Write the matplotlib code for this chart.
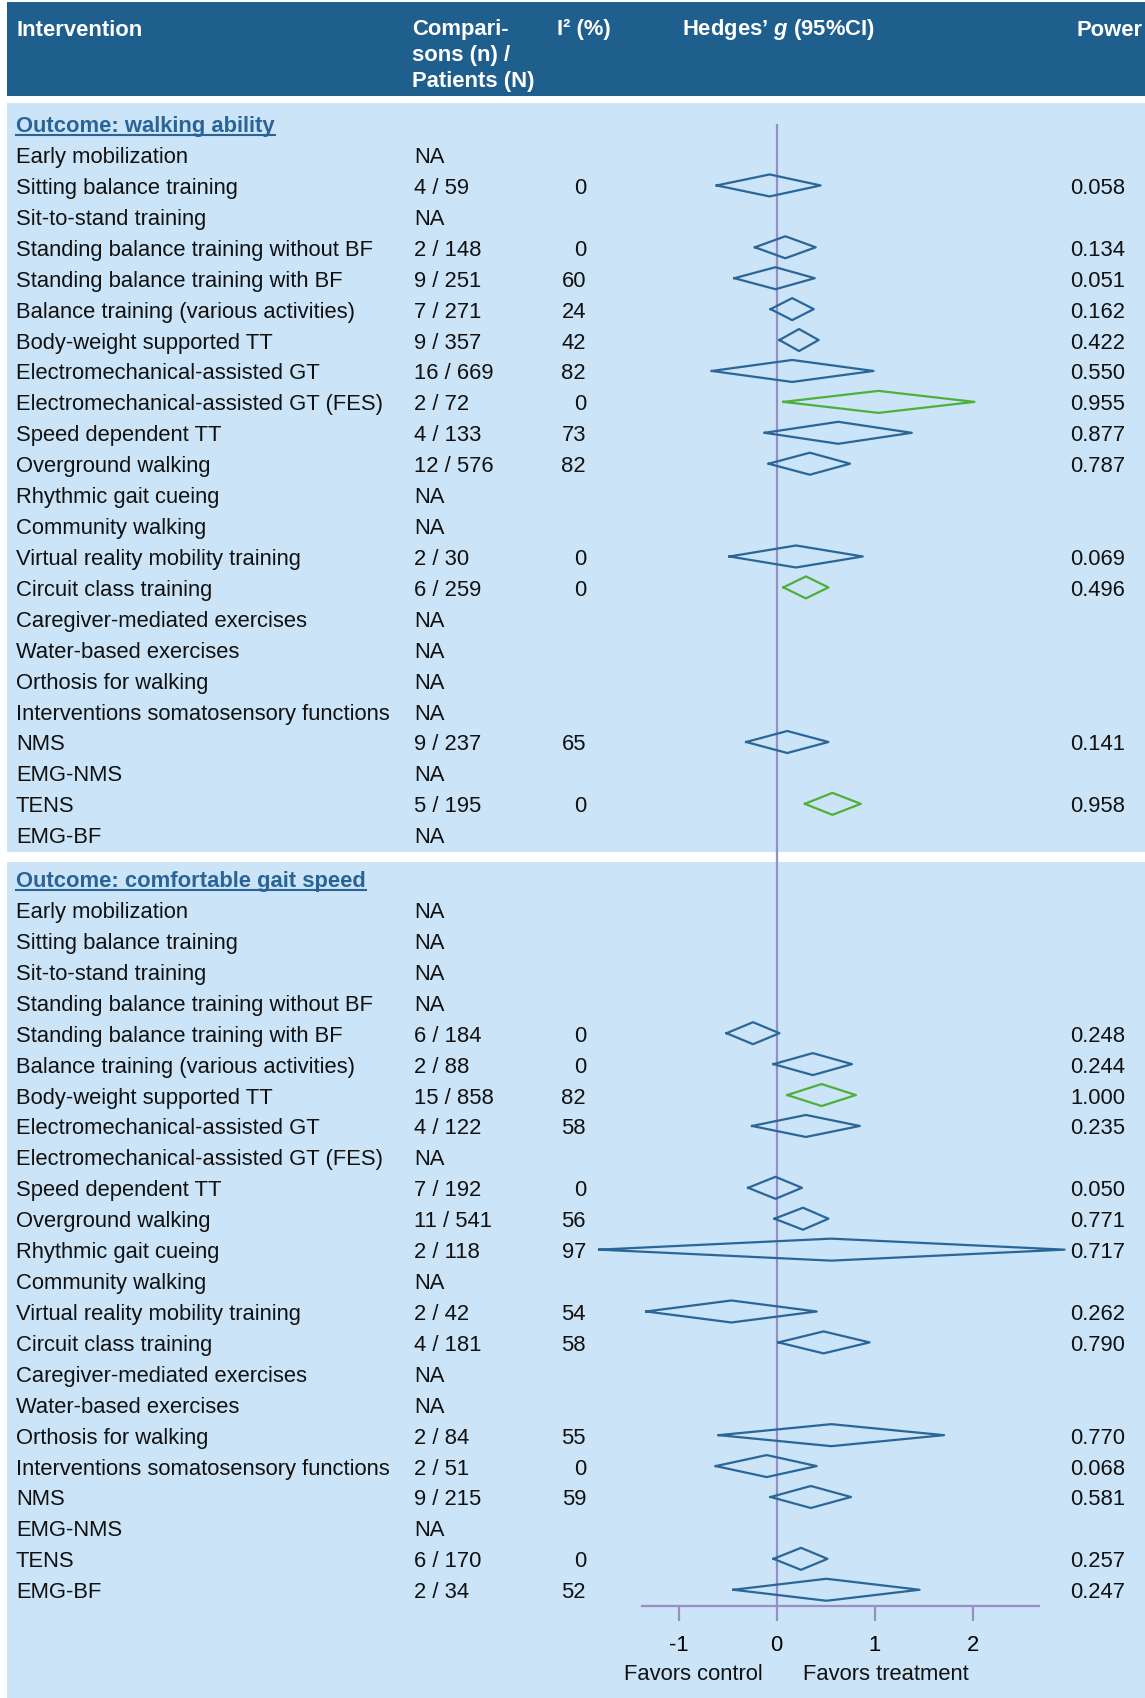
import numpy as np
import matplotlib
matplotlib.use("Agg")
from matplotlib import pyplot as plt
from matplotlib.patches import Rectangle

plt.rcParams['font.family'] = ['Liberation Sans', 'DejaVu Sans']
plt.rcParams['mathtext.fontset'] = 'custom'
plt.rcParams['mathtext.it'] = 'Liberation Sans:bold:italic'
plt.rcParams['mathtext.rm'] = 'Liberation Sans:bold'

# ---- data ----
interventions = ["Early mobilization", "Sitting balance training", "Sit-to-stand training",
                 "Standing balance training without BF", "Standing balance training with BF",
                 "Balance training (various activities)", "Body-weight supported TT",
                 "Electromechanical-assisted GT", "Electromechanical-assisted GT (FES)",
                 "Speed dependent TT", "Overground walking", "Rhythmic gait cueing",
                 "Community walking", "Virtual reality mobility training", "Circuit class training",
                 "Caregiver-mediated exercises", "Water-based exercises", "Orthosis for walking",
                 "Interventions somatosensory functions", "NMS", "EMG-NMS", "TENS", "EMG-BF"]
nan = np.nan

# Outcome: walking ability
walk_comp = ["NA", "4 / 59", "NA", "2 / 148", "9 / 251", "7 / 271", "9 / 357", "16 / 669", "2 / 72",
             "4 / 133", "12 / 576", "NA", "NA", "2 / 30", "6 / 259", "NA", "NA", "NA", "NA",
             "9 / 237", "NA", "5 / 195", "NA"]
walk_i2 = [nan, 0, nan, 0, 60, 24, 42, 82, 0, 73, 82, nan, nan, 0, 0, nan, nan, nan, nan, 65, nan, 0, nan]
walk_g = [nan, -0.07, nan, 0.09, -0.01, 0.16, 0.23, 0.16, 1.04, 0.63, 0.34, nan, nan, 0.20, 0.30,
          nan, nan, nan, nan, 0.11, nan, 0.57, nan]
walk_lo = [nan, -0.61, nan, -0.22, -0.43, -0.06, 0.03, -0.66, 0.07, -0.12, -0.08, nan, nan, -0.48, 0.07,
           nan, nan, nan, nan, -0.31, nan, 0.29, nan]
walk_hi = [nan, 0.45, nan, 0.40, 0.39, 0.38, 0.43, 0.99, 2.02, 1.38, 0.75, nan, nan, 0.88, 0.53,
           nan, nan, nan, nan, 0.53, nan, 0.86, nan]
walk_power = [nan, 0.058, nan, 0.134, 0.051, 0.162, 0.422, 0.550, 0.955, 0.877, 0.787, nan, nan, 0.069,
              0.496, nan, nan, nan, nan, 0.141, nan, 0.958, nan]
walk_sig = [0, 0, 0, 0, 0, 0, 0, 0, 1, 0, 0, 0, 0, 0, 1, 0, 0, 0, 0, 0, 0, 1, 0]

# Outcome: comfortable gait speed
speed_comp = ["NA", "NA", "NA", "NA", "6 / 184", "2 / 88", "15 / 858", "4 / 122", "NA", "7 / 192",
              "11 / 541", "2 / 118", "NA", "2 / 42", "4 / 181", "NA", "NA", "2 / 84", "2 / 51",
              "9 / 215", "NA", "6 / 170", "2 / 34"]
speed_i2 = [nan, nan, nan, nan, 0, 0, 82, 58, nan, 0, 56, 97, nan, 54, 58, nan, nan, 55, 0, 59, nan, 0, 52]
speed_g = [nan, nan, nan, nan, -0.24, 0.37, 0.46, 0.30, nan, -0.01, 0.27, 0.56, nan, -0.46, 0.48,
           nan, nan, 0.56, -0.10, 0.35, nan, 0.25, 0.51]
speed_lo = [nan, nan, nan, nan, -0.51, -0.03, 0.11, -0.25, nan, -0.29, -0.02, -1.81, nan, -1.33, 0.02,
            nan, nan, -0.59, -0.62, -0.06, nan, -0.03, -0.44]
speed_hi = [nan, nan, nan, nan, 0.03, 0.77, 0.81, 0.85, nan, 0.26, 0.53, 2.94, nan, 0.41, 0.95,
            nan, nan, 1.71, 0.41, 0.76, nan, 0.52, 1.46]
speed_power = [nan, nan, nan, nan, 0.248, 0.244, 1.000, 0.235, nan, 0.050, 0.771, 0.717, nan, 0.262,
               0.790, nan, nan, 0.770, 0.068, 0.581, nan, 0.257, 0.247]
speed_sig = [0, 0, 0, 0, 0, 0, 1, 0, 0, 0, 0, 0, 0, 0, 0, 0, 0, 0, 0, 0, 0, 0, 0]

x_ticks = [-1, 0, 1, 2]

# ---- style ----
W, H = 1145, 1699
header_col = '#1F5F8E'
panel_col = '#CBE4F7'
title_col = '#2A6496'
blue = '#2B6698'
green = '#4DB03A'
zero_col = '#958FC2'
fs = 15.8
dy = 2  # text nudge so caps sit centred on the diamonds

fig = plt.figure(figsize=(W / 100, H / 100), dpi=100)
bg = fig.add_axes([0, 0, 1, 1])
bg.set_xlim(0, W)
bg.set_ylim(H, 0)
bg.axis('off')

bg.add_patch(Rectangle((7, 3), W - 7, 94, color=header_col, lw=0))
bg.add_patch(Rectangle((7, 104), W - 7, 749, color=panel_col, lw=0))
bg.add_patch(Rectangle((7, 863), W - 7, 836, color=panel_col, lw=0))

# header
hk = dict(color='white', fontsize=fs, fontweight='bold', va='center')
bg.text(16, 30, "Intervention", **hk)
bg.text(412, 30, "Compari-", **hk)
bg.text(412, 56, "sons (n) /", **hk)
bg.text(412, 81, "Patients (N)", **hk)
bg.text(557, 30, "I\u00b2 (%)", **hk)
bg.text(682, 30, "Hedges\u2019 $\\mathit{g}$ (95%CI)", **hk)
bg.text(1143, 30, "Power", ha='right', **hk)

# forest axes: zero at x=776.5 px, 98 px per unit, bottom spine at y=1607 px
x0, unit, y_axis = 776.5, 98.0, 1607
ax = fig.add_axes([0, (H - y_axis) / H, 1, y_axis / H])
ax.set_xlim((0 - x0) / unit, (W - x0) / unit)
ax.set_ylim(y_axis, 0)
ax.patch.set_visible(False)
for s in ['top', 'right', 'left']:
    ax.spines[s].set_visible(False)
ax.spines['bottom'].set_bounds(-1.37, 2.68)
ax.spines['bottom'].set_color(zero_col)
ax.spines['bottom'].set_linewidth(1.6)
ax.set_yticks([])
ax.set_xticks(x_ticks)
ax.set_xticklabels([str(t) for t in x_ticks], fontsize=fs)
ax.tick_params(axis='x', direction='out', length=11, width=1.6, color=zero_col, pad=9)
ax.vlines(0, 125, y_axis, color=zero_col, lw=1.6, zorder=1)

step = 30.92
half_h = 11
blocks = [
    ("Outcome: walking ability", 124.6, walk_comp, walk_i2, walk_g, walk_lo, walk_hi, walk_power, walk_sig),
    ("Outcome: comfortable gait speed", 879.6, speed_comp, speed_i2, speed_g, speed_lo, speed_hi, speed_power, speed_sig),
]
titles = []
for title, ty, comp, i2, g, lo, hi, pw, sig in blocks:
    t = bg.text(16, ty + dy, title, color=title_col, fontsize=fs, fontweight='bold', va='center')
    titles.append(t)
    for i, name in enumerate(interventions):
        y = ty + step * (i + 1)
        bg.text(16, y + dy, name, fontsize=fs, va='center', color='#111111')
        bg.text(414, y + dy, comp[i], fontsize=fs, va='center', color='#111111')
        if not np.isnan(i2[i]):
            bg.text(586, y + dy, "%d" % i2[i], fontsize=fs, va='center', ha='right', color='#111111')
        if not np.isnan(pw[i]):
            bg.text(1125, y + dy, "%.3f" % pw[i], fontsize=fs, va='center', ha='right', color='#111111')
        if not np.isnan(g[i]):
            c = green if sig[i] else blue
            ax.plot([lo[i], g[i], hi[i], g[i], lo[i]],
                    [y, y - half_h, y, y + half_h, y], color=c, lw=1.6, zorder=3)

bg.text(693, 1675, "Favors control", fontsize=fs, ha='center', va='center', color='#111111')
bg.text(886, 1675, "Favors treatment", fontsize=fs, ha='center', va='center', color='#111111')

# underline outcome titles
fig.canvas.draw()
r = fig.canvas.get_renderer()
inv = bg.transData.inverted()
for t in titles:
    bb = t.get_window_extent(r)
    (xa, ya), (xb, yb) = inv.transform([[bb.x0, bb.y0], [bb.x1, bb.y1]])
    bg.plot([xa, xb], [ya - 1, ya - 1], color=title_col, lw=1.5)

fig.savefig("out.png", dpi=100)
